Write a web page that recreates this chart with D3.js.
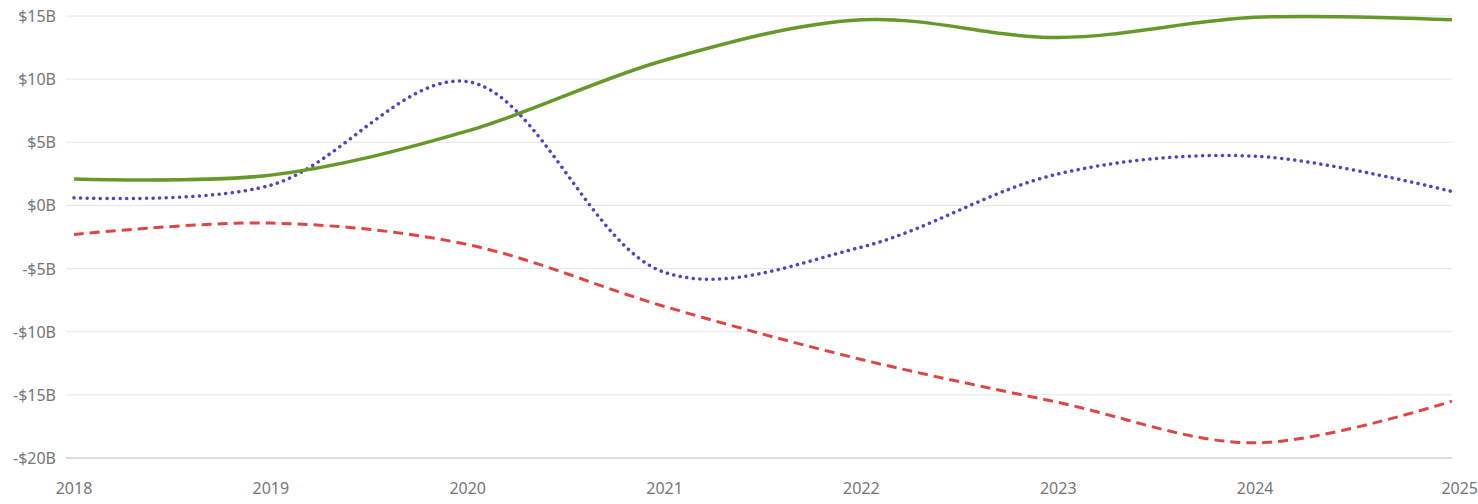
<!DOCTYPE html>
<html><head><meta charset="utf-8">
<script src="https://cdn.jsdelivr.net/npm/d3@7"></script>
<style>body{margin:0;background:#fff}svg{display:block}</style>
</head><body>
<svg id="chart" width="1478" height="504"></svg>
<script>
const years = [2018, 2019, 2020, 2021, 2022, 2023, 2024, 2025]
const greenValues = [2.1, 2.4, 5.9, 11.5, 14.7, 13.3, 14.9, 14.7]
const purpleValues = [0.6, 1.6, 9.8, -5.3, -3.3, 2.5, 3.9, 1.1]
const redValues = [-2.3, -1.4, -3.1, -8.0, -12.2, -15.6, -18.8, -15.5]
const yTicks = [-20, -15, -10, -5, 0, 5, 10, 15]

const svg = d3.select("#chart")
const x = d3.scaleLinear().domain([2018, 2025]).range([74, 1452])
const y = d3.scaleLinear().domain([-20, 15]).range([458, 16])
const font = "'Source Sans Pro', 'Noto Sans', sans-serif"

svg.append("g").selectAll("line").data(yTicks).join("line")
  .attr("x1", 66).attr("x2", 1452)
  .attr("y1", d => y(d)).attr("y2", d => y(d))
  .attr("stroke", d => d === -20 ? "#bbb" : "#e6e6e6").attr("stroke-width", 1)

svg.append("g").selectAll("text").data(yTicks).join("text")
  .attr("x", 56).attr("y", d => y(d) + 6)
  .attr("text-anchor", "end")
  .attr("fill", "#777").style("font-family", font).style("font-size", "16px")
  .text(d => (d < 0 ? "-$" + (-d) : "$" + d) + "B")

svg.append("g").selectAll("text").data(years).join("text")
  .attr("x", d => x(d)).attr("y", 494)
  .attr("text-anchor", (d, i) => i === years.length - 1 ? "end" : "middle")
  .attr("dx", (d, i) => i === years.length - 1 ? 26 : 0)
  .attr("fill", "#777").style("font-family", font).style("font-size", "16px")
  .text(d => d)

const line = d3.line().x((d, i) => x(years[i])).y(d => y(d)).curve(d3.curveCatmullRom.alpha(0.5))

svg.append("path").datum(redValues).attr("d", line)
  .attr("fill", "none").attr("stroke", "#e04545").attr("stroke-width", 3)
  .attr("stroke-dasharray", "10,6")
svg.append("path").datum(purpleValues).attr("d", line)
  .attr("fill", "none").attr("stroke", "#5a3fc0").attr("stroke-width", 3.5)
  .attr("stroke-dasharray", "0.1,6.5").attr("stroke-linecap", "round")
svg.append("path").datum(greenValues).attr("d", line)
  .attr("fill", "none").attr("stroke", "#66992a").attr("stroke-width", 3.5)
</script>
</body></html>
